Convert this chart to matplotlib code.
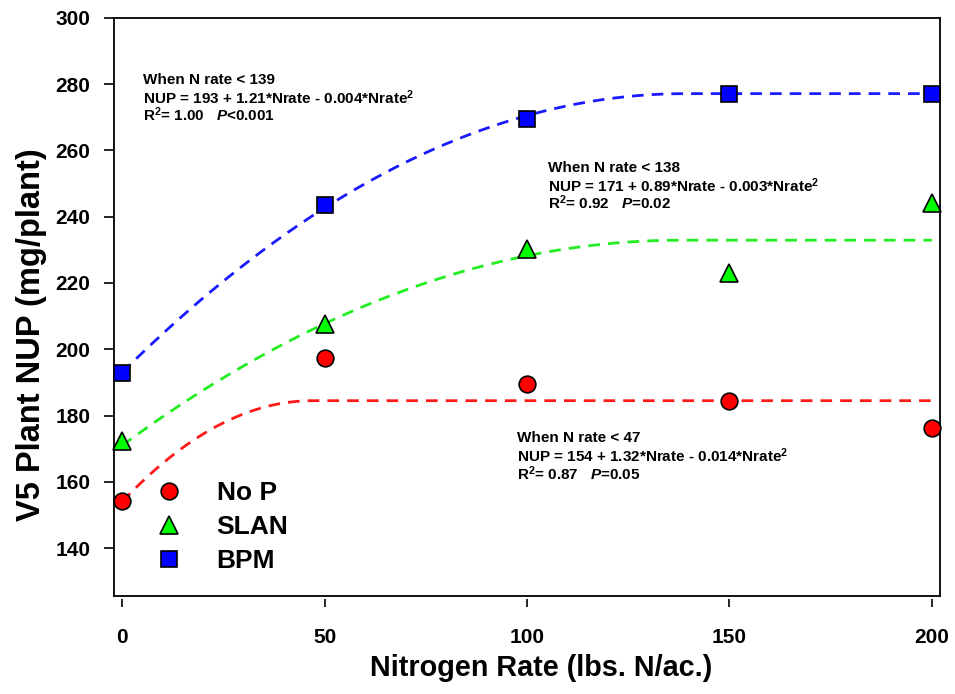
import numpy as np
import matplotlib
matplotlib.use("Agg")
import matplotlib.pyplot as plt

plt.rcParams['font.family'] = ['Liberation Sans', 'DejaVu Sans']
plt.rcParams['font.weight'] = 'bold'
plt.rcParams['mathtext.fontset'] = 'custom'
plt.rcParams['mathtext.rm'] = 'Liberation Sans:bold'
plt.rcParams['mathtext.it'] = 'Liberation Sans:bold:italic'
plt.rcParams['mathtext.bf'] = 'Liberation Sans:bold'

# ---- data ----
n_rate = [0, 50, 100, 150, 200]
no_p = [154.3, 197.4, 189.6, 184.5, 176.2]
slan = [172.4, 207.6, 230.3, 223.0, 244.0]
bpm = [192.9, 243.5, 269.5, 277.1, 277.1]

series_names = ["No P", "SLAN", "BPM"]
series_colors = ["#ff0000", "#00ff00", "#0000ff"]
line_colors = ["#ff1a1a", "#22ee22", "#1a1aff"]
series_markers = ["o", "^", "s"]

# quadratic-plateau fits: intercept, join point, plateau
fit_intercept = [154, 171, 193]
fit_join = [47, 138, 139]
fit_plateau = [184.5, 232.9, 277.1]

annotations = [
    ["When N rate < 47",
     "NUP = 154 + 1.32*Nrate - 0.014*Nrate$^{2}$",
     "R$^{2}$= 0.87   $P$=0.05"],
    ["When N rate < 138",
     "NUP = 171 + 0.89*Nrate - 0.003*Nrate$^{2}$",
     "R$^{2}$= 0.92   $P$=0.02"],
    ["When N rate < 139",
     "NUP = 193 + 1.21*Nrate - 0.004*Nrate$^{2}$",
     "R$^{2}$= 1.00   $P$<0.001"],
]
x_ticks = [0, 50, 100, 150, 200]
y_ticks = [140, 160, 180, 200, 220, 240, 260, 280, 300]

W, H = 955, 694
fig = plt.figure(figsize=(W / 100, H / 100), dpi=100)
L, R, T, B = 114, 940, 17.7, 596
ax = fig.add_axes([L / W, (H - B) / H, (R - L) / W, (B - T) / H])
ax.set_xlim(-2, 202)
ax.set_ylim(125.6, 300)

data = [no_p, slan, bpm]
xf = np.linspace(0, 200, 401)
for i in range(3):
    a, j, p = fit_intercept[i], fit_join[i], fit_plateau[i]
    c = -(p - a) / j ** 2
    b = -2 * c * j
    yf = np.where(xf < j, a + b * xf + c * xf ** 2, p)
    ax.plot(xf, yf, color=line_colors[i], lw=2.0, dashes=(4.2, 2.9), zorder=2)

sizes = [12, 12.5, 11.3]
for i in range(3):
    ax.plot(n_rate, data[i], linestyle='none', marker=series_markers[i],
            markersize=sizes[i], markerfacecolor=series_colors[i],
            markeredgecolor='black', markeredgewidth=1.2, zorder=3,
            clip_on=False, label=series_names[i])

# annotations (pixel positions converted to axes fraction)
ann_pos = [(517.3, [437.7, 455.5, 474]),
           (548.3, [168, 185.5, 203]),
           (143.3, [80, 97.5, 115])]
for k, (px, pys) in enumerate(ann_pos):
    for line, py in zip(annotations[k], pys):
        ax.text((px - L) / (R - L), (B - py) / (B - T), line, transform=ax.transAxes,
                fontsize=11, fontweight='bold', ha='left', va='center')

# axes styling
ax.set_xticks(x_ticks)
ax.set_yticks(y_ticks)
ax.tick_params(axis='y', direction='out', length=7, width=1.2, pad=10, labelsize=15)
ax.tick_params(axis='x', direction='out', length=6, width=1.2, pad=15, labelsize=15)
for lab in ax.get_xticklabels() + ax.get_yticklabels():
    lab.set_fontweight('bold')
for s in ['left', 'right', 'top']:
    ax.spines[s].set_linewidth(1.3)
ax.spines['bottom'].set_position(('outward', 2))
ax.spines['bottom'].set_visible(False)
ax.plot([0, 1], [0, 0], transform=ax.transAxes, color='black', lw=1.3,
        clip_on=False, zorder=5)

ax.set_xlabel("Nitrogen Rate (lbs. N/ac.)", fontsize=20.7, fontweight='bold')
ax.set_ylabel("V5 Plant NUP (mg/plant)", fontsize=23.5, fontweight='bold')
ax.xaxis.set_label_coords((541 - L) / (R - L), (B - 668) / (B - T))
ax.xaxis.label.set_va('center')
ax.yaxis.set_label_coords((32 - L) / (R - L), (B - 335) / (B - T))
ax.yaxis.label.set_va('center')

leg = ax.legend(loc='upper left', bbox_to_anchor=((119 - L) / (R - L), (B - 457.5) / (B - T)),
                frameon=False, fontsize=19, labelspacing=0.38, handlelength=2.0,
                handletextpad=0.8, borderpad=0.4, numpoints=1)
for t in leg.get_texts():
    t.set_fontweight('bold')

fig.savefig("out.png", dpi=100)
